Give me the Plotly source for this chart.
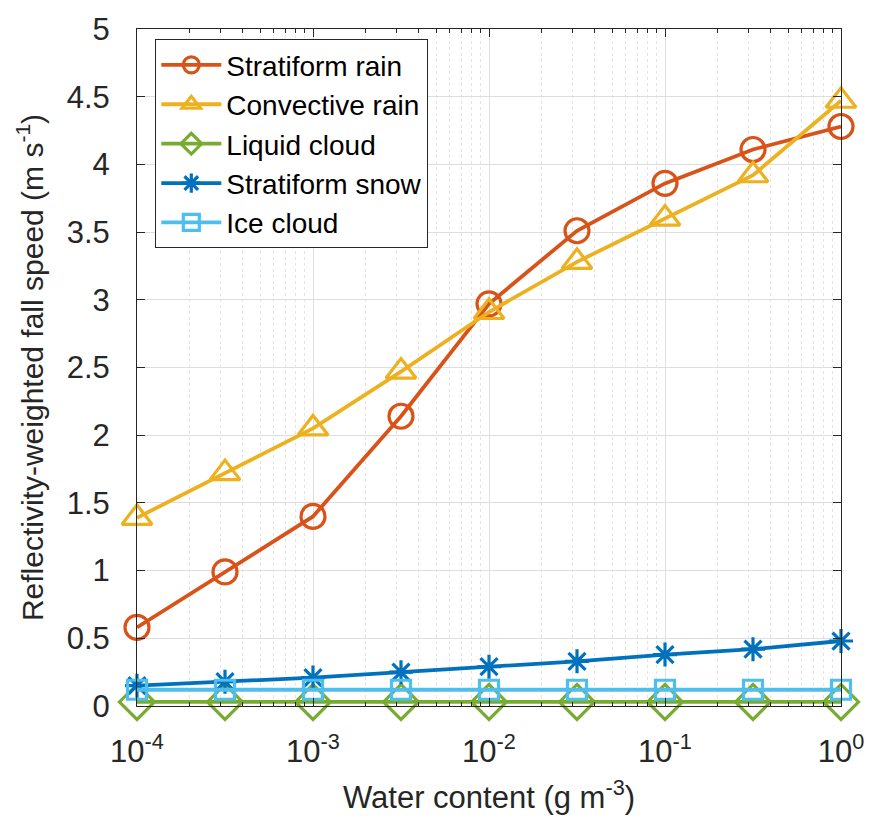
import plotly.graph_objects as go

# Water content (g m^-3), half-decade steps
water_content = [1e-4, 10**-3.5, 1e-3, 10**-2.5, 1e-2, 10**-1.5, 1e-1, 10**-0.5, 1e0]

# Reflectivity-weighted fall speed (m s^-1) per hydrometeor type
stratiform_rain = [0.58, 0.99, 1.40, 2.14, 2.97, 3.51, 3.86, 4.11, 4.28]
convective_rain = [1.39, 1.72, 2.05, 2.47, 2.91, 3.28, 3.60, 3.92, 4.47]
liquid_cloud = [0.03, 0.03, 0.03, 0.03, 0.03, 0.03, 0.03, 0.03, 0.03]
stratiform_snow = [0.15, 0.18, 0.21, 0.25, 0.29, 0.33, 0.38, 0.42, 0.48]
ice_cloud = [0.12, 0.12, 0.12, 0.12, 0.12, 0.12, 0.12, 0.12, 0.12]

x_tickvals = [1e-4, 1e-3, 1e-2, 1e-1, 1e0]
x_ticktext = ["10<sup>-4</sup>", "10<sup>-3</sup>", "10<sup>-2</sup>", "10<sup>-1</sup>", "10<sup>0</sup>"]
y_tickvals = [0, 0.5, 1, 1.5, 2, 2.5, 3, 3.5, 4, 4.5, 5]
y_ticktext = ["0", "0.5", "1", "1.5", "2", "2.5", "3", "3.5", "4", "4.5", "5"]

series = [
    ("Stratiform rain", stratiform_rain, "#D95319", "circle-open", 24),
    ("Convective rain", convective_rain, "#EDB120", "triangle-up-open", 26),
    ("Liquid cloud", liquid_cloud, "#77AC30", "diamond-open", 27),
    ("Stratiform snow", stratiform_snow, "#0072BD", "asterisk-open", 20),
    ("Ice cloud", ice_cloud, "#4DBEEE", "square-open", 19),
]

fig = go.Figure()
for name, vals, color, symbol, size in series:
    fig.add_trace(go.Scatter(
        x=water_content, y=vals, name=name, mode="lines+markers",
        line=dict(color=color, width=3.8),
        marker=dict(symbol=symbol, size=size, color=color,
                    line=dict(color=color, width=3.2)),
        cliponaxis=False,
    ))

font_family = "Liberation Sans, Arial, sans-serif"

fig.update_layout(
    width=876, height=826,
    margin=dict(l=137, r=34, t=18, b=120),
    paper_bgcolor="white", plot_bgcolor="white",
    font=dict(family=font_family, size=31, color="#262626"),
    showlegend=True,
    legend=dict(
        x=0.026, y=0.985, xanchor="left", yanchor="top",
        bgcolor="white", bordercolor="#262626", borderwidth=1,
        font=dict(size=28, color="black"),
        tracegroupgap=0, itemwidth=60,
    ),
)

fig.update_xaxes(
    type="log", range=[-4, 0],
    tickvals=x_tickvals, ticktext=x_ticktext,
    ticks="inside", ticklen=8, tickcolor="#262626",
    showline=True, linecolor="#262626", linewidth=1, mirror="ticks",
    showgrid=True, gridcolor="#DEDEDE", gridwidth=1,
    minor=dict(dtick="D1", showgrid=True, gridcolor="#E4E4E4", griddash="dot",
               ticks="inside", ticklen=4, tickcolor="#262626"),
    zeroline=False,
    tickfont=dict(size=31),
    ticklabelstandoff=18,
    title=dict(text="Water content (g m<sup>-3</sup>)", font=dict(size=31), standoff=18),
)

fig.update_yaxes(
    range=[0, 5],
    tickvals=y_tickvals, ticktext=y_ticktext,
    ticks="inside", ticklen=8, tickcolor="#262626",
    showline=True, linecolor="#262626", linewidth=1, mirror="ticks",
    showgrid=True, gridcolor="#DEDEDE", gridwidth=1,
    zeroline=False,
    tickfont=dict(size=31),
    ticklabelstandoff=20,
    title=dict(text="Reflectivity-weighted fall speed (m s<sup>-1</sup>)", font=dict(size=30), standoff=14),
)

fig.write_html("out.html")
